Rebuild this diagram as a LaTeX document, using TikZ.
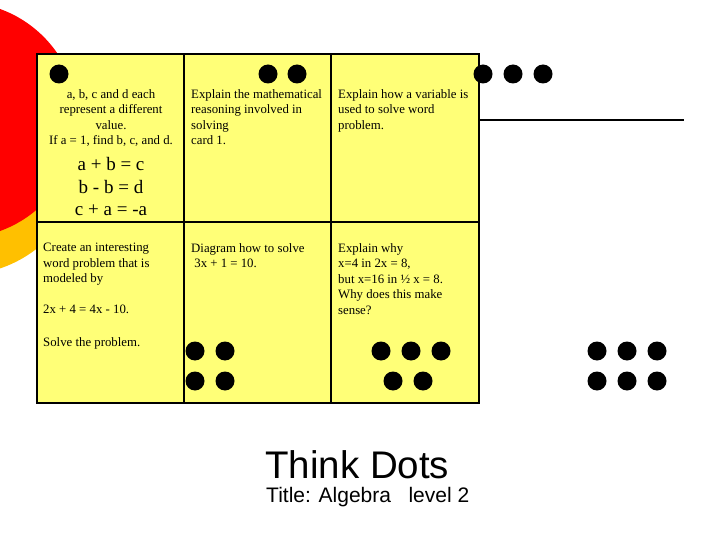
\documentclass[tikz,border=0pt]{standalone}
\usepackage{fontspec}
\setmainfont{Liberation Serif}
\newfontfamily\hv{Liberation Sans}
\begin{document}
\begin{tikzpicture}[x=1pt,y=-1pt,
  dot/.style={circle,fill=black,minimum size=19pt,inner sep=0pt},
  celltxt/.style={anchor=north west,inner sep=0pt,align=left,font=\fontsize{12.8}{15.6}\selectfont},
  eqtxt/.style={inner sep=0pt,align=center,font=\fontsize{19}{22.5}\selectfont}]
\useasboundingbox (0,0) rectangle (720,540);
\fill[fill={rgb,255:red,255;green,192;blue,0}] (-40,150) circle (125);
\fill[red] (-40,120) circle (118);
\fill[fill={rgb,255:red,255;green,255;blue,119}] (37,54) rectangle (479,403);
\draw[line width=1.6pt] (37,54) rectangle (479,403);
\draw[line width=1.6pt] (184,54) -- (184,403) (331,54) -- (331,403) (37,222) -- (479,222);
\draw[line width=1.6pt] (479,120) -- (684,120);
\node[celltxt,anchor=north,align=center] (t1) at (111,89) {a, b, c and d each\\represent a different\\value.\\If a = 1, find b, c, and d.};
\node[eqtxt] (eq) at (111,187) {a + b = c\\b - b = d\\c + a = -a};
\node[celltxt] (t2) at (191,89) {Explain the mathematical\\reasoning involved in\\solving\\card 1.};
\node[celltxt] (t3) at (338,89) {Explain how a variable is\\used to solve word\\problem.};
\node[celltxt] (t4) at (43,243) {Create an interesting\\word problem that is\\modeled by};
\node[celltxt] (t4b) at (43,305) {2x + 4 = 4x - 10.};
\node[celltxt] (t4c) at (43,337) {Solve the problem.};
\node[celltxt] (t5) at (191,243) {Diagram how to solve\\\ 3x + 1 = 10.};
\node[celltxt] (t6) at (338,243) {Explain why\\x=4 in 2x = 8,\\but x=16 in ½ x = 8.\\Why does this make\\sense?};
\foreach \n/\x/\y in {a/59/74,b/268/74,c/297/74,d/483/74,e/513/74,f/543/74,
  g/195/351,h/225/351,i/195/381,j/225/381,
  k/381/351,l/411/351,m/441/351,n/393/381,o/423/381,
  p/597/351,q/627/351,r/657/351,s/597/381,t/627/381,u/657/381}
  \node[dot] (d\n) at (\x,\y) {};
\node[anchor=west,inner sep=0pt,font=\hv\fontsize{38.5}{40}\selectfont] (title) at (265,465) {Think Dots};
\node[anchor=west,inner sep=0pt,font=\hv\fontsize{21}{22}\selectfont] (sub) at (266,497) {Title: Algebra\ \ \ level 2};
\end{tikzpicture}
\end{document}
